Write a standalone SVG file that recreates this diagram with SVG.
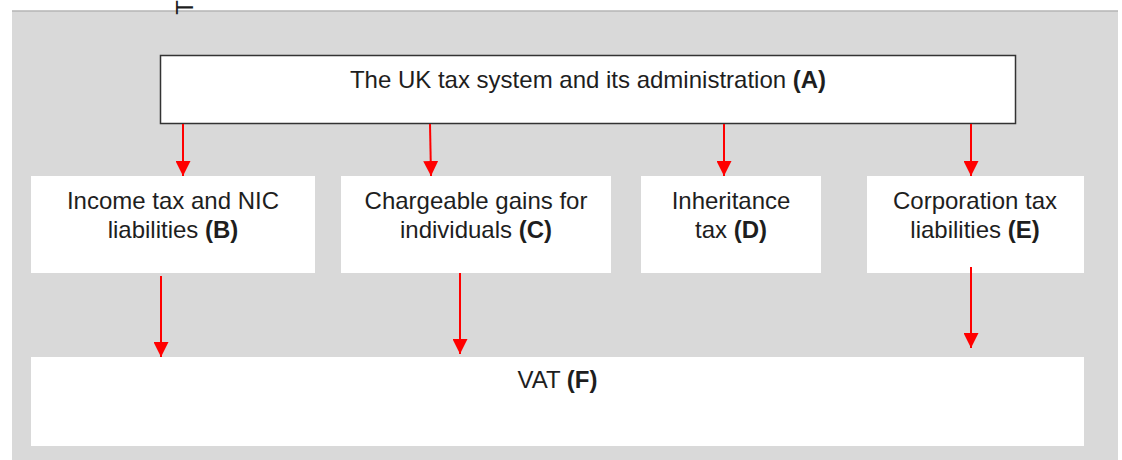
<svg xmlns="http://www.w3.org/2000/svg" width="1122" height="460" viewBox="0 0 1122 460">
<defs>
<style>
.lbl{font-family:"Liberation Sans",Arial,sans-serif;font-size:24px;fill:#1e1e1e;text-anchor:middle}
.b{font-weight:bold}
.box{fill:#ffffff}
.conn{stroke:#ff0000;stroke-width:2;fill:none;marker-end:url(#ah)}
</style>
<marker id="ah" viewBox="0 0 15 15" refX="15" refY="7.5" markerWidth="15" markerHeight="15" markerUnits="userSpaceOnUse" orient="auto">
<path d="M0,0 L15,7.5 L0,15 Z" fill="#ff0000"/>
</marker>
</defs>
<rect x="0" y="0" width="1122" height="460" fill="#ffffff"/>
<rect x="12" y="11" width="1106" height="449" fill="#d9d9d9"/>
<line x1="12" y1="11" x2="1118" y2="11" stroke="#b4b4b4" stroke-width="1.5"/>
<text transform="translate(193,7.5) rotate(-90)" style="font-family:'Liberation Sans',Arial,sans-serif;font-size:24px;fill:#1e1e1e;text-anchor:middle">T</text>
<g id="node-A">
<rect x="160.5" y="55.5" width="855" height="68" fill="#ffffff" stroke="#333333" stroke-width="1.5"/>
<text class="lbl" x="588" y="88">The UK tax system and its administration <tspan class="b">(A)</tspan></text>
</g>
<g id="node-B">
<rect class="box" x="31" y="176" width="284" height="97"/>
<text class="lbl" x="173" y="209">Income tax and NIC</text>
<text class="lbl" x="173" y="238">liabilities <tspan class="b">(B)</tspan></text>
</g>
<g id="node-C">
<rect class="box" x="341" y="176" width="270" height="97"/>
<text class="lbl" x="476" y="209">Chargeable gains for</text>
<text class="lbl" x="476" y="238">individuals <tspan class="b">(C)</tspan></text>
</g>
<g id="node-D">
<rect class="box" x="641" y="176" width="180" height="97"/>
<text class="lbl" x="731" y="209">Inheritance</text>
<text class="lbl" x="731" y="238">tax <tspan class="b">(D)</tspan></text>
</g>
<g id="node-E">
<rect class="box" x="867" y="176" width="217" height="97"/>
<text class="lbl" x="975" y="209">Corporation tax</text>
<text class="lbl" x="975" y="238">liabilities <tspan class="b">(E)</tspan></text>
</g>
<g id="node-F">
<rect class="box" x="31" y="357" width="1053" height="89"/>
<text class="lbl" x="557.5" y="388">VAT <tspan class="b">(F)</tspan></text>
</g>
<g id="connectors">
<line class="conn" x1="183" y1="124" x2="183" y2="176"/>
<line class="conn" x1="430" y1="124" x2="431" y2="176"/>
<line class="conn" x1="724" y1="124" x2="724" y2="176"/>
<line class="conn" x1="971" y1="124" x2="971" y2="176"/>
<line class="conn" x1="161" y1="276" x2="161" y2="357"/>
<line class="conn" x1="460" y1="273" x2="460" y2="354"/>
<line class="conn" x1="971" y1="267" x2="971" y2="348"/>
</g>
</svg>
